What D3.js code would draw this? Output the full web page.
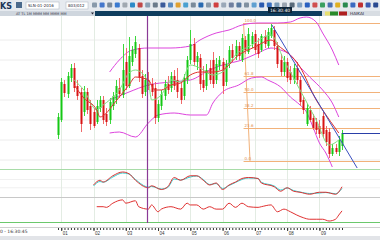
<!DOCTYPE html>
<html>
<head>
<meta charset="utf-8">
<script src="https://cdn.jsdelivr.net/npm/d3@7/dist/d3.min.js"></script>
<style>
  body { margin: 0; background: #fff; }
  svg { display: block; font-family: "DejaVu Sans", "Liberation Sans", sans-serif; }
</style>
</head>
<body>
<div id="chart"></div>
<script>
// candles, one per session, index 0..88
const candleOpen = [1035,1050,1086,1076,1092,1102,1084,1078,1058,1078, 1064,1058,1048,1062,1070,1056,1050,1064,1070,1082,
  1075,1108,1084,1108,1116,1122,1094,1078,1090,1086, 1082,1052,1064,1074,1086,1082,1094,1090,1082,1074,
  1090,1110,1126,1108,1112,1090,1084,1102,1110,1090, 1104,1108,1088,1106,1120,1114,1124,1110,1130,1118,
  1126,1136,1126,1120,1134,1124,1134,1140,1124,1110, 1098,1108,1098,1090,1102,1090,1070,1046,1060,1052,
  1048,1044,1054,1040,1038,1016,1022,1018,1024];
const candleHigh = [1057,1092,1090,1098,1106,1107,1090,1082,1084,1082, 1070,1062,1070,1074,1074,1062,1072,1078,1090,1092,
  1126,1122,1133,1124,1134,1126,1100,1096,1098,1092, 1088,1070,1080,1090,1094,1098,1100,1102,1088,1096,
  1114,1140,1132,1118,1116,1104,1106,1110,1118,1112, 1114,1112,1110,1124,1126,1130,1128,1136,1134,1142,
  1138,1140,1132,1136,1140,1142,1146,1144,1128,1116, 1114,1112,1104,1106,1108,1094,1074,1066,1064,1056,
  1052,1050,1058,1044,1042,1026,1026,1034,1040];
const candleLow = [1031,1048,1073,1072,1088,1078,1070,1038,1054,1056, 1040,1042,1046,1058,1046,1044,1046,1060,1066,1072,
  1072,1080,1082,1104,1112,1088,1072,1074,1080,1074, 1046,1048,1060,1070,1076,1078,1080,1072,1066,1070,
  1086,1106,1104,1100,1080,1078,1080,1086,1082,1086, 1100,1076,1084,1102,1108,1110,1110,1108,1116,1116,
  1122,1116,1112,1118,1122,1122,1132,1120,1102,1094, 1094,1088,1086,1086,1086,1064,1056,1044,1048,1040,
  1036,1032,1032,1024,1012,1014,1016,1014,1020];
const candleClose = [1053,1088,1077,1094,1102,1082,1074,1046,1078,1060, 1046,1044,1064,1070,1050,1048,1068,1074,1084,1076,
  1100,1084,1114,1120,1128,1092,1076,1090,1084,1078, 1052,1066,1076,1086,1080,1094,1084,1078,1070,1092,
  1110,1126,1108,1114,1086,1082,1100,1090,1086,1106, 1110,1084,1106,1120,1112,1124,1114,1132,1120,1136,
  1134,1120,1116,1134,1126,1138,1142,1124,1106,1098, 1108,1092,1090,1102,1090,1068,1060,1062,1050,1042,
  1040,1036,1036,1028,1016,1022,1018,1030,1037];

// overlays as [candle index, price]
const bbUpper = [[16,1098],[19,1110],[23,1120],[28,1122],[35,1122],[41,1124],[44,1130],[49,1137],[53,1140],[57,1145],
  [62,1147],[68,1147],[72,1148],[75,1152],[77,1153],[80,1148],[82,1137],[85,1120],[87,1105]];
const bbMiddle = [[16,1070],[22,1078],[28,1085],[35,1088],[41,1090],[47,1100],[51,1105],[57,1110],[62,1117],[66,1122],
  [69,1120],[72,1115],[75,1103],[78,1093],[82,1080],[85,1067],[87,1053]];
const bbLower = [[16,1037],[19,1038],[24,1033],[28,1047],[31,1055],[36,1057],[41,1055],[46,1055],[48,1067],[51,1078],
  [56,1085],[60,1092],[63,1093],[65,1090],[69,1083],[72,1073],[75,1065],[77,1058],[79,1043],[81,1027],[83,1017],[85,1003]];
const maRed = [[5,1085],[8,1072],[12,1060],[13,1053],[15,1057],[17,1065],[19,1073],[22,1085],[24,1093],[28,1090],
  [30,1080],[32,1080],[35,1085],[38,1087],[41,1095],[44,1098],[48,1098],[51,1100],[56,1115],[61,1123],[66,1130],
  [68,1125],[75,1103],[80,1070],[82,1060],[87,1037]];
const maGreen = [[5,1090],[8,1080],[12,1060],[14,1065],[16,1070],[19,1080],[22,1097],[24,1100],[28,1088],[29,1070],
  [32,1075],[35,1090],[38,1088],[41,1105],[44,1102],[48,1095],[51,1098],[55,1115],[60,1125],[66,1135],[70,1110],
  [75,1080],[80,1050],[84,1025],[87,1030]];

// drawing tools
const fibHigh = [57.5, 1147];
const fibLow = [59.5, 1009];
const fibLevels = [0, 23.6, 38.2, 50, 61.8, 100];
const trendLine = [[66.3, 1145], [92.7, 1002]];
const lastPrice = 1037;
const cursorIdx = 27.5;

// oscillator panels
const oscFast = [[11,44],[13,63],[14,56],[17,81],[20,96],[22,89],[24,63],[28,33],[29,41],[32,26],[34,37],[36,74],
  [38,63],[41,81],[43,81],[45,63],[47,44],[49,52],[51,26],[53,44],[55,56],[57,70],[59,74],[62,70],[63,52],[67,37],
  [69,19],[71,33],[73,19],[75,15],[78,7],[81,15],[83,15],[86,7],[88,37]];
const oscSlow = [[11,40],[13,58],[14,55],[17,76],[20,92],[22,88],[24,66],[28,36],[29,38],[32,28],[34,34],[36,68],
  [38,64],[41,76],[43,80],[45,66],[47,46],[49,50],[51,30],[53,42],[55,54],[57,66],[59,72],[62,70],[63,55],[67,40],
  [69,24],[71,32],[73,22],[75,16],[78,10],[81,12],[83,14],[86,9],[88,30]];
const momentum = [[12,65],[14,65],[15,62],[17,81],[20,96],[21,81],[24,92],[25,65],[28,54],[29,73],[31,42],[32,54],
  [35,65],[38,54],[40,81],[41,73],[43,73],[45,54],[47,65],[49,54],[51,54],[53,81],[55,62],[57,81],[59,65],[62,62],
  [63,65],[66,73],[68,42],[70,54],[72,42],[74,27],[76,15],[78,8],[80,8],[82,8],[84,0],[86,8],[87,27],[88,46]];

const dayIdx = [1, 11, 21, 31, 41, 51, 61, 71, 81];
const dayLabels = ["01", "02", "03", "04", "05", "06", "07", "08", "09"];

const width = 380;
const height = 240;

const svg = d3.select("#chart").append("svg")
  .attr("width", width)
  .attr("height", height);

const x = d3.scaleLinear().domain([0, 88]).range([58, 342]);
const y = d3.scaleLinear().domain([1000, 1160]).range([170, 10]);
const y1 = d3.scaleLinear().domain([0, 100]).range([196, 171]);
const y2 = d3.scaleLinear().domain([0, 100]).range([221, 199]);

const defs = svg.append("defs");
const clip = (id, top, bottom) => defs.append("clipPath").attr("id", id)
  .append("rect").attr("x", 0).attr("y", top).attr("width", width).attr("height", bottom - top);
clip("mainClip", 16, 169);
clip("osc1Clip", 170, 197);
clip("osc2Clip", 198, 222);

// grid
const grid = svg.append("g");
grid.selectAll(".hg").data([1130, 1110, 1090, 1070, 1050, 1030, 1010])
  .enter().append("line")
  .attr("x1", 0).attr("x2", width)
  .attr("y1", d => y(d)).attr("y2", d => y(d))
  .attr("stroke", "#ececec");
grid.selectAll(".hg2").data([33, 66])
  .enter().append("line")
  .attr("x1", 0).attr("x2", width)
  .attr("y1", d => y1(d)).attr("y2", d => y1(d))
  .attr("stroke", "#f0f0f0");
grid.selectAll(".vg").data(dayIdx)
  .enter().append("line")
  .attr("x1", d => Math.round(x(d)) + 0.5).attr("x2", d => Math.round(x(d)) + 0.5)
  .attr("y1", 16).attr("y2", 222)
  .attr("stroke", "#e3ece3");

// panel borders
svg.append("line").attr("x1", 0).attr("x2", width).attr("y1", 169.5).attr("y2", 169.5).attr("stroke", "#a8dca8");
svg.append("line").attr("x1", 0).attr("x2", width).attr("y1", 197.5).attr("y2", 197.5).attr("stroke", "#c8c8c8");
svg.append("line").attr("x1", 0).attr("x2", width).attr("y1", 222.5).attr("y2", 222.5).attr("stroke", "#6cc86c");

const main = svg.append("g").attr("clip-path", "url(#mainClip)");

const priceLine = d3.line()
  .x(d => x(d[0]))
  .y(d => y(d[1]))
  .curve(d3.curveMonotoneX);

// fibonacci
const fibPrice = l => fibLow[1] + (fibHigh[1] - fibLow[1]) * l / 100;
const fibG = main.append("g");
fibG.selectAll("line").data(fibLevels)
  .enter().append("line")
  .attr("x1", x(fibHigh[0])).attr("x2", width)
  .attr("y1", d => Math.round(y(fibPrice(d))) + 0.5)
  .attr("y2", d => Math.round(y(fibPrice(d))) + 0.5)
  .attr("stroke", "#f2b27a");
fibG.append("line")
  .attr("x1", x(fibHigh[0])).attr("y1", y(fibHigh[1]))
  .attr("x2", x(fibLow[0])).attr("y2", y(fibLow[1]))
  .attr("stroke", "#f2b27a");
fibG.selectAll("text").data(fibLevels)
  .enter().append("text")
  .attr("x", x(fibHigh[0]) + 1)
  .attr("y", d => y(fibPrice(d)) - 1)
  .attr("font-size", 4)
  .attr("fill", "#e09050")
  .text(d => d.toFixed(1));

// bollinger bands
[bbUpper, bbMiddle, bbLower].forEach(band => {
  main.append("path")
    .attr("fill", "none")
    .attr("stroke", "#dd44dd")
    .attr("stroke-width", 1)
    .attr("d", priceLine(band));
});

// candles
const idx = d3.range(candleOpen.length);
const up = i => candleClose[i] >= candleOpen[i];
const candleG = main.append("g");
candleG.selectAll(".wick").data(idx)
  .enter().append("line")
  .attr("x1", i => Math.round(x(i)) + 0.5).attr("x2", i => Math.round(x(i)) + 0.5)
  .attr("y1", i => y(candleHigh[i])).attr("y2", i => y(candleLow[i]))
  .attr("stroke", i => up(i) ? "#3ad83a" : "#f06a6a");
candleG.selectAll(".body").data(idx)
  .enter().append("rect")
  .attr("x", i => Math.round(x(i)) - 0.5)
  .attr("width", 2)
  .attr("y", i => y(Math.max(candleOpen[i], candleClose[i])))
  .attr("height", i => Math.max(1, Math.abs(y(candleOpen[i]) - y(candleClose[i]))))
  .attr("fill", i => up(i) ? "#14c814" : "#d81414");

// moving averages
main.append("path")
  .attr("fill", "none").attr("stroke", "#7ee07e").attr("stroke-width", 1)
  .attr("d", priceLine(maGreen));
main.append("path")
  .attr("fill", "none").attr("stroke", "#e03030").attr("stroke-width", 1)
  .attr("d", priceLine(maRed));

// trend line and last price
main.append("line")
  .attr("x1", x(trendLine[0][0])).attr("y1", y(trendLine[0][1]))
  .attr("x2", x(trendLine[1][0])).attr("y2", y(trendLine[1][1]))
  .attr("stroke", "#3a4fc0");
main.append("line")
  .attr("x1", x(88)).attr("x2", width)
  .attr("y1", Math.round(y(lastPrice)) + 0.5).attr("y2", Math.round(y(lastPrice)) + 0.5)
  .attr("stroke", "#2a3fa8");

// oscillators
const oscLine = sc => d3.line().x(d => x(d[0])).y(d => sc(d[1])).curve(d3.curveMonotoneX);
const o1 = svg.append("g").attr("clip-path", "url(#osc1Clip)");
o1.append("path").attr("fill", "none").attr("stroke", "#33d0d0").attr("d", oscLine(y1)(oscSlow));
o1.append("path").attr("fill", "none").attr("stroke", "#dd3333").attr("d", oscLine(y1)(oscFast));
const o2 = svg.append("g").attr("clip-path", "url(#osc2Clip)");
o2.append("path").attr("fill", "none").attr("stroke", "#e03030").attr("d", oscLine(y2)(momentum));

// cursor line
svg.append("line")
  .attr("x1", Math.round(x(cursorIdx)) + 0.5).attr("x2", Math.round(x(cursorIdx)) + 0.5)
  .attr("y1", 11).attr("y2", 227)
  .attr("stroke", "#8a3a96").attr("stroke-width", 1.2);

// date axis
svg.append("rect").attr("x", 0).attr("y", 223).attr("width", width).attr("height", 13).attr("fill", "#fff");
svg.append("line").attr("x1", 0).attr("x2", width).attr("y1", 227.5).attr("y2", 227.5).attr("stroke", "#d0d0d0");
const minorG = svg.append("g").attr("transform", "translate(0,228)")
  .call(d3.axisBottom(x).tickValues(idx).tickSize(2).tickFormat(""));
minorG.select(".domain").remove();
minorG.selectAll("line").attr("stroke", "#333");
const axisG = svg.append("g").attr("transform", "translate(0,228)")
  .call(d3.axisBottom(x).tickValues(dayIdx).tickSize(3).tickFormat((d, i) => dayLabels[i]));
axisG.select(".domain").remove();
axisG.selectAll("line").attr("stroke", "#333");
axisG.selectAll("text")
  .attr("font-size", 4.5)
  .attr("fill", "#333")
  .attr("text-anchor", "start")
  .attr("x", 1)
  .attr("y", 3.5);
svg.append("text").attr("x", 0).attr("y", 233).attr("font-size", 4.5).attr("fill", "#333").text("0 - 16:30:45");
svg.append("rect").attr("x", 0).attr("y", 236).attr("width", width).attr("height", 4).attr("fill", "#e2e4e8");

// toolbar
svg.append("rect").attr("x", 0).attr("y", 0).attr("width", width).attr("height", 11).attr("fill", "#e6eaef");
svg.append("text").attr("x", 0).attr("y", 8.5).attr("font-size", 8).attr("font-weight", "bold")
  .attr("fill", "#1a3558").text("KS");
svg.append("rect").attr("x", 16).attr("y", 2).attr("width", 6).attr("height", 6).attr("fill", "#4b6a8c");
svg.append("rect").attr("x", 26).attr("y", 2).attr("width", 33).attr("height", 7)
  .attr("fill", "#fff").attr("stroke", "#aab4c0").attr("stroke-width", 0.5);
svg.append("text").attr("x", 28).attr("y", 7).attr("font-size", 4).attr("fill", "#223").text("SLN-01-2016");
svg.append("rect").attr("x", 66).attr("y", 2).attr("width", 22).attr("height", 7)
  .attr("fill", "#fff").attr("stroke", "#aab4c0").attr("stroke-width", 0.5);
svg.append("text").attr("x", 68).attr("y", 7).attr("font-size", 4).attr("fill", "#223").text("803/012");
const iconColors = ["#8899aa", "#4477cc", "#7a8a9a", "#3a7ad0", "#a0a8b0", "#2c8ac8", "#c04848", "#8aa0b4",
  "#6a7a8a", "#3a5a9a", "#5a8ac0", "#e0a030", "#4aa0d0", "#7a8a9a", "#2a6ab0", "#8a9aaa", "#d04040", "#9aa8b8",
  "#7080a0", "#5a7aa0", "#8090a0", "#60a0d0", "#2a5ab0", "#3a70c0", "#7a9ab8", "#9aa4b0", "#5a6a7a", "#80a0c0",
  "#2a60c0", "#d05050", "#3aa060", "#4a70b0", "#e0b020", "#2a8a50", "#3a6ac0", "#c03030", "#3a5ab0", "#2a4a90"];
svg.selectAll(".icon").data(iconColors)
  .enter().append("rect")
  .attr("x", (d, i) => 92 + i * 7.6)
  .attr("y", 2.5)
  .attr("width", 5)
  .attr("height", 5)
  .attr("rx", 1)
  .attr("fill", d => d);

// status bar
svg.append("rect").attr("x", 0).attr("y", 11).attr("width", width).attr("height", 5).attr("fill", "#0f3d5e");
svg.append("rect").attr("x", 0).attr("y", 11).attr("width", 95).attr("height", 5).attr("fill", "#cfd6de");
svg.append("text").attr("x", 16).attr("y", 15).attr("font-size", 3.5).attr("fill", "#334")
  .text("AT     TL     1M   MMM MM MMM MM");
svg.append("path").attr("d", "M91,12.5 L94,12.5 L92.5,14.5 Z").attr("fill", "#223");
svg.append("rect").attr("x", 322).attr("y", 11).attr("width", 58).attr("height", 5).attr("fill", "#d8dde3");
svg.append("rect").attr("x", 325).attr("y", 11.5).attr("width", 5).attr("height", 4).attr("fill", "#e8e070");
svg.append("rect").attr("x", 330).attr("y", 11.5).attr("width", 8).attr("height", 4).attr("fill", "#2a8a2a");
svg.append("rect").attr("x", 339).attr("y", 11.5).attr("width", 8).attr("height", 4).attr("fill", "#b02020");
svg.append("text").attr("x", 350).attr("y", 15.3).attr("font-size", 4.2).attr("fill", "#223").text("HAIKAI");
svg.append("rect").attr("x", 268).attr("y", 7).attr("width", 24).attr("height", 6).attr("fill", "#0b2236");
svg.append("text").attr("x", 280).attr("y", 11.6).attr("font-size", 4.5).attr("fill", "#fff")
  .attr("text-anchor", "middle").text("16:30:40");
</script>
</body>
</html>
